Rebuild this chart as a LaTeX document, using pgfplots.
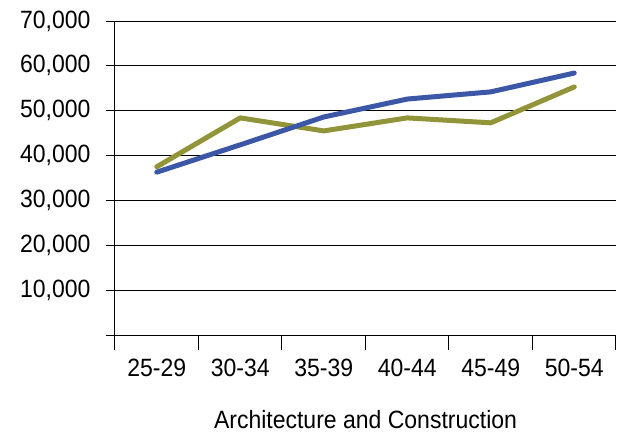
\documentclass[border=0pt]{standalone}
\usepackage{fontspec}
\setmainfont{Liberation Sans}[FakeStretch=0.92]
\usepackage{pgfplots}
\pgfplotsset{compat=1.18}
\definecolor{serblue}{RGB}{59,87,166}
\definecolor{serolive}{RGB}{145,148,56}
\newcommand{\lbl}{\fontsize{25bp}{30bp}\selectfont}
\begin{document}
\begin{tikzpicture}
\begin{axis}[
  at={(0,0)}, anchor=south west,
  scale only axis,
  width=501bp, height=314bp,
  xmin=-0.5, xmax=5.5,
  ymin=0, ymax=70000,
  axis lines=left,
  axis line style={-, line width=1bp, black},
  xtick={-0.5,0.5,...,5.5},
  x tick label as interval,
  xticklabels={25-29,30-34,35-39,40-44,45-49,50-54},
  ytick={0,10000,...,70000},
  scaled y ticks=false,
  yticklabels={{},{10,000},{20,000},{30,000},{40,000},{50,000},{60,000},{70,000}},
  tick align=outside,
  major tick length=9bp,
  x tick style={line width=1bp, black, /pgfplots/major tick length=15bp},
  y tick style={line width=1bp, black},
  ymajorgrids,
  grid style={line width=1bp, black},
  xticklabel style={font=\lbl, anchor=base, yshift=-32bp},
  yticklabel style={font=\lbl, xshift=-12bp},
  xlabel={Architecture and Construction},
  xlabel style={font=\lbl, at={(axis description cs:0.5,0)}, anchor=base, yshift=-93bp},
  clip=false,
]
\addplot[serolive, line width=5bp, line join=round, line cap=round] coordinates {
  (0,37500) (1,48400) (2,45500) (3,48400) (4,47300) (5,55300)};
\addplot[serblue, line width=5bp, line join=round, line cap=round] coordinates {
  (0,36300) (1,42400) (2,48600) (3,52600) (4,54200) (5,58400)};
\end{axis}
\useasboundingbox (-115bp,-101bp) rectangle (504bp,335bp);
\end{tikzpicture}
\end{document}
